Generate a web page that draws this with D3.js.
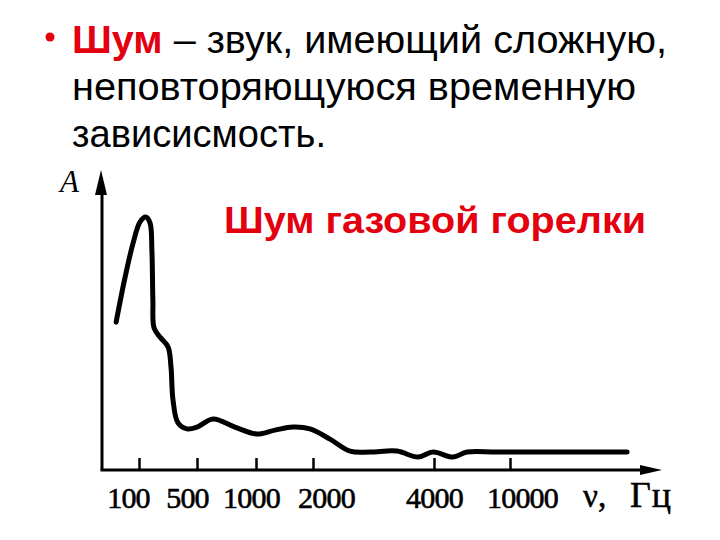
<!DOCTYPE html>
<html>
<head>
<meta charset="utf-8">
<script src="https://d3js.org/d3.v7.min.js"></script>
<style>
  html, body { margin: 0; padding: 0; background: #fff; }
  svg { display: block; }
</style>
</head>
<body>
<svg id="chart" width="720" height="540"></svg>
<script>
// ---------- data ----------
const tickFreqs  = [100, 500, 1000, 2000, 4000, 10000];
const tickLabels = ["100", "500", "1000", "2000", "4000", "10000"];
// noise spectrum of a gas burner (frequency in Hz, relative amplitude)
const freqs = [53, 68, 85, 103, 121, 136, 143, 147, 152, 179, 224, 243, 257, 295, 379,
               500, 603, 781, 1012, 1260, 1568, 1929, 2204, 2473, 2773, 3236, 3650,
               3978, 5029, 5954, 8550, 18280, 41000];
const amps  = [49.3, 64.3, 75.7, 82.7, 84.3, 82.3, 73.3, 56.7, 47.3, 44.3, 41, 34.3, 23.3,
               15.7, 13.7, 14.3, 17, 14.3, 12, 13.3, 14.3, 13.7, 10.3, 6.3, 6, 6.3, 4.3,
               6, 4.3, 6, 6, 6, 6];
const titleLines = ["– звук, имеющий сложную,", "неповторяющуюся временную", "зависисмость."];
const titleWord = "Шум";
const chartTitle = "Шум газовой горелки";
const yLabel = "A";
const xLabelSymbol = "ν,";
const xLabelUnit = "Гц";

// ---------- layout ----------
const RED = "#e3000f";
const ox = 102, oy = 470;          // axis origin
const xEnd = 662, yTop = 170;       // arrow tips
const tickPx = [139, 197, 256, 313, 434, 510];
const labelShift = [-11, -10, -5, 13, 0, 12];
const SANS = "Liberation Sans, Arial, sans-serif";
const SERIF = "Liberation Serif, Times New Roman, serif";

const svg = d3.select("#chart");

// schematic (non-uniform) frequency axis: piecewise log scale
const x = d3.scaleLog().domain(tickFreqs).range(tickPx);
const y = d3.scaleLinear().domain([0, 100]).range([oy, yTop]);

// ---------- title text ----------
svg.append("circle").attr("cx", 50).attr("cy", 37).attr("r", 4.5).attr("fill", RED);
const t1 = svg.append("text")
  .attr("x", 72).attr("y", 53)
  .attr("font-family", SANS)
  .attr("font-size", 39)
  .attr("textLength", 595).attr("lengthAdjust", "spacingAndGlyphs");
t1.append("tspan").attr("fill", RED).attr("font-weight", "bold").text(titleWord);
t1.append("tspan").attr("fill", "#000").text(" " + titleLines[0]);

svg.append("text")
  .attr("x", 72).attr("y", 100)
  .attr("font-family", SANS)
  .attr("font-size", 39)
  .attr("textLength", 564).attr("lengthAdjust", "spacingAndGlyphs")
  .text(titleLines[1]);

svg.append("text")
  .attr("x", 72).attr("y", 147)
  .attr("font-family", SANS)
  .attr("font-size", 39)
  .attr("textLength", 254).attr("lengthAdjust", "spacingAndGlyphs")
  .text(titleLines[2]);

svg.append("text")
  .attr("x", 224).attr("y", 233)
  .attr("font-family", SANS)
  .attr("font-size", 36).attr("font-weight", "bold")
  .attr("fill", RED)
  .attr("textLength", 422).attr("lengthAdjust", "spacingAndGlyphs")
  .text(chartTitle);

// ---------- axes ----------
svg.append("line").attr("x1", ox).attr("y1", oy).attr("x2", ox).attr("y2", yTop + 20)
  .attr("stroke", "#000").attr("stroke-width", 3);
svg.append("path")
  .attr("d", `M${ox - 1},${yTop} L${ox + 5},${yTop + 25} L${ox - 7},${yTop + 25} Z`)
  .attr("fill", "#000");

svg.append("line").attr("x1", ox - 1.5).attr("y1", oy).attr("x2", xEnd - 15).attr("y2", oy)
  .attr("stroke", "#000").attr("stroke-width", 3);
svg.append("path")
  .attr("d", `M${xEnd},${oy} L${xEnd - 22},${oy - 5} L${xEnd - 22},${oy + 5} Z`)
  .attr("fill", "#000");

const xAxis = d3.axisBottom(x)
  .tickValues(tickFreqs)
  .tickFormat((d, i) => tickLabels[i])
  .tickSize(-12);
const gx = svg.append("g").attr("transform", `translate(0,${oy})`).call(xAxis);
gx.select(".domain").remove();
gx.selectAll(".tick line").attr("stroke", "#000").attr("stroke-width", 2.5);
gx.selectAll(".tick text")
  .attr("y", 38).attr("dy", 0)
  .attr("dx", (d, i) => labelShift[i])
  .attr("fill", "#000")
  .attr("stroke", "#000").attr("stroke-width", 0.6)
  .attr("font-family", SERIF)
  .attr("font-size", 30)
  .attr("letter-spacing", -0.8);

const xl = svg.append("text")
  .attr("y", 507)
  .attr("font-family", SERIF)
  .attr("font-size", 33)
  .attr("stroke", "#000").attr("stroke-width", 0.5);
xl.append("tspan").attr("x", 583).text(xLabelSymbol);
xl.append("tspan").attr("x", 630).attr("font-size", 36).attr("letter-spacing", 1).text(xLabelUnit);

svg.append("text")
  .attr("x", 60).attr("y", 192)
  .attr("font-family", SERIF)
  .attr("font-style", "italic")
  .attr("font-size", 31)
  .text(yLabel);

// ---------- spectrum curve ----------
const pts = freqs.map((f, i) => [f, amps[i]]);
const line = d3.line()
  .x(d => x(d[0]))
  .y(d => y(d[1]))
  .curve(d3.curveCatmullRom.alpha(0.5));
svg.append("path")
  .datum(pts)
  .attr("d", line)
  .attr("fill", "none")
  .attr("stroke", "#000")
  .attr("stroke-width", 5)
  .attr("stroke-linecap", "round")
  .attr("stroke-linejoin", "round");
</script>
</body>
</html>
